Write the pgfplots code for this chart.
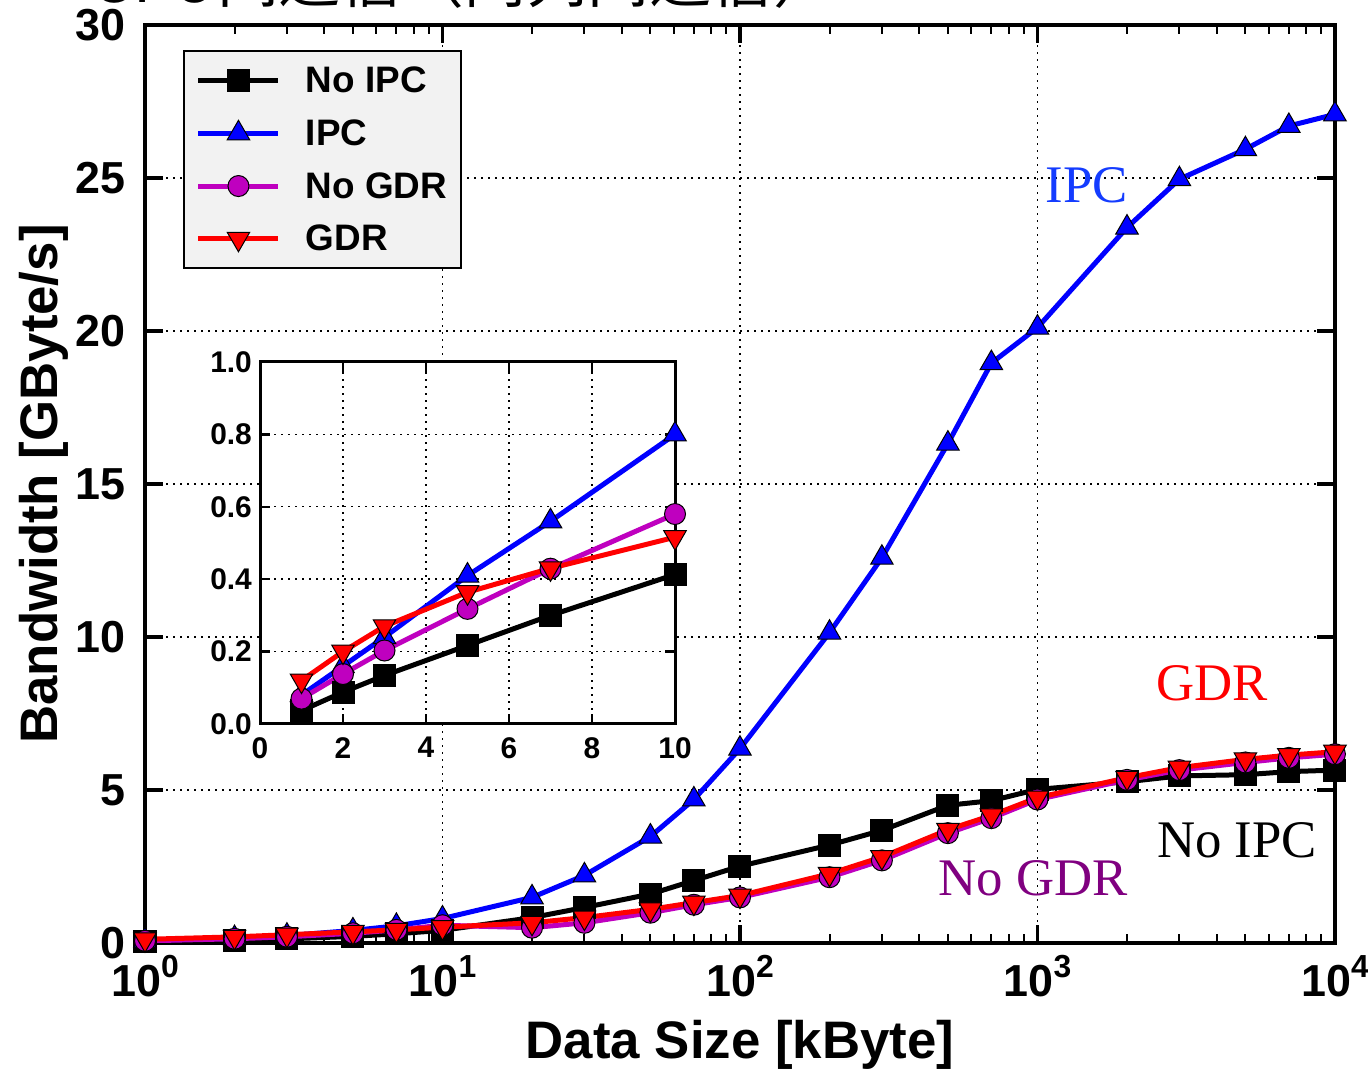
\documentclass[border=0pt]{standalone}
\usepackage{pgfplots}
\pgfplotsset{compat=1.18}
\usepackage{pgfplotstable}
\usepackage{fontspec}
\setmainfont{Liberation Sans}
\newfontfamily\timesfont{Liberation Serif}
\newfontfamily\cjk{Noto Sans CJK SC}
\definecolor{mag}{rgb}{0.75,0,0.75}
\definecolor{legbg}{RGB}{242,242,242}
\definecolor{ipctext}{RGB}{20,60,255}
\definecolor{nogdrtext}{RGB}{128,0,128}

\pgfplotstableread{
x noipc ipc nogdr gdr
1 0.037 0.08 0.07 0.12
2 0.088 0.16 0.138 0.20
3 0.134 0.24 0.203 0.27
5 0.217 0.41 0.318 0.364
7 0.30 0.56 0.429 0.43
10 0.413 0.80 0.58 0.516
20 0.83 1.49 0.50 0.66
30 1.16 2.21 0.66 0.83
50 1.60 3.48 0.99 1.10
70 2.04 4.69 1.25 1.32
100 2.51 6.35 1.49 1.55
200 3.20 10.14 2.15 2.26
300 3.68 12.59 2.70 2.81
500 4.50 16.32 3.59 3.70
700 4.65 18.95 4.08 4.17
1000 5.02 20.11 4.69 4.75
2000 5.27 23.38 5.33 5.40
3000 5.46 24.96 5.65 5.73
5000 5.50 25.94 5.90 6.00
7000 5.60 26.70 6.05 6.14
10000 5.65 27.08 6.17 6.25
}\maindata

\pgfplotstableread{
x noipc ipc nogdr gdr
1 0.037 0.08 0.07 0.12
2 0.088 0.16 0.138 0.20
3 0.134 0.24 0.203 0.27
5 0.217 0.41 0.318 0.364
7 0.30 0.56 0.429 0.43
10 0.413 0.80 0.58 0.516
}\insetdata

\pgfplotsset{
  s1/.style={black, line width=5bp, mark=square*, mark size=11bp, mark options={solid, fill=black, draw=black, line width=1bp}},
  s2/.style={blue, line width=5bp, mark=triangle*, mark size=13bp, mark options={solid, fill=blue, draw=black, line width=1bp}},
  s3/.style={mag, line width=5bp, mark=*, mark size=10.5bp, mark options={solid, fill=mag, draw=black, line width=1bp}},
  s4/.style={red, line width=5bp, mark=triangle*, mark size=13bp, mark options={solid, rotate=180, fill=red, draw=black, line width=1bp}},
  mygrid/.style={grid=major, major grid style={black, line width=1.4bp, dash pattern=on 2bp off 5bp}},
}

\begin{document}
\begin{tikzpicture}
\path[use as bounding box] (0bp,0bp) rectangle (1368bp,1069bp);
\node[anchor=base east, font=\cjk\fontsize{62}{62}\selectfont, inner sep=0pt] at (835bp,1066bp) {GPU间通信（同列间通信）};
\begin{axis}[
  at={(145bp,126bp)}, anchor=south west,
  width=1190bp, height=918bp, scale only axis,
  xmode=log, xmin=1, xmax=10000, ymin=0, ymax=30,
  xtick={1,10,100,1000,10000},
  xticklabels={10\raisebox{19bp}{\fontsize{32}{32}\selectfont 0},
               10\raisebox{19bp}{\fontsize{32}{32}\selectfont 1},
               10\raisebox{19bp}{\fontsize{32}{32}\selectfont 2},
               10\raisebox{19bp}{\fontsize{32}{32}\selectfont 3},
               10\raisebox{19bp}{\fontsize{32}{32}\selectfont 4}},
  ytick={0,5,10,15,20,25,30},
  /pgf/number format/assume math mode=true,
  tick label style={font=\bfseries\fontsize{45}{45}\selectfont},
  yticklabel style={inner sep=0pt, xshift=-19bp},
  xticklabel style={inner sep=0pt, yshift=-12bp},
  axis line style={line width=4bp},
  major tick length=18bp, minor tick length=9bp,
  every major tick/.append style={line width=3.5bp, black},
  every minor tick/.append style={line width=2bp, black},
  mygrid,
  xlabel={Data Size [kByte]},
  ylabel={Bandwidth [GByte/s]},
  xlabel style={at={(axis description cs:0.5,-0.1253)}, anchor=base, inner sep=0pt, font=\bfseries\fontsize{53}{53}\selectfont},
  ylabel style={at={(axis description cs:-0.0739,0.5)}, anchor=base, inner sep=0pt, font=\bfseries\fontsize{53}{53}\selectfont},
  legend image code/.code={\draw[mark repeat=2,mark phase=2] plot coordinates {(0bp,0bp)(40bp,0bp)(80bp,0bp)};},
  legend cell align=left,
  legend style={at={(axis description cs:0.0319,0.9728)}, anchor=north west,
    fill=legbg, draw=black, line width=2bp,
    font=\bfseries\fontsize{37}{37}\selectfont,
    nodes={inner sep=2bp}, row sep=21.5bp, column sep=23bp,
    inner xsep=12bp, inner ysep=14bp},
]
\addplot[s1] table[x=x,y=noipc]{\maindata};
\addlegendentry{No IPC}
\addplot[s2] table[x=x,y=ipc]{\maindata};
\addlegendentry{IPC}
\addplot[s3] table[x=x,y=nogdr]{\maindata};
\addlegendentry{No GDR}
\addplot[s4] table[x=x,y=gdr]{\maindata};
\addlegendentry{GDR}
\node[font=\timesfont\fontsize{53}{53}\selectfont, text=ipctext] at (axis cs:1467,24.77) {IPC};
\node[font=\timesfont\fontsize{53}{53}\selectfont, text=red] at (axis cs:3861,8.5) {GDR};
\node[font=\timesfont\fontsize{53}{53}\selectfont, text=black] at (axis cs:4688,3.37) {No IPC};
\node[font=\timesfont\fontsize{53}{53}\selectfont, text=nogdrtext] at (axis cs:966,2.12) {No GDR};
\end{axis}

\begin{axis}[
  at={(260bp,345bp)}, anchor=south west,
  width=415bp, height=362bp, scale only axis,
  xmin=0, xmax=10, ymin=0, ymax=1,
  xtick={0,2,4,6,8,10}, ytick={0,0.2,0.4,0.6,0.8,1.0},
  axis background/.style={fill=white},
  /pgf/number format/assume math mode=true,
  tick label style={font=\bfseries\fontsize{30}{30}\selectfont},
  yticklabel style={inner sep=0pt, xshift=-8bp, /pgf/number format/.cd, fixed, fixed zerofill, precision=1},
  xticklabel style={inner sep=0pt, yshift=-13bp},
  axis line style={line width=3bp},
  major tick length=10bp,
  every major tick/.append style={line width=2.5bp, black},
  mygrid,
]
\addplot[s1] table[x=x,y=noipc]{\insetdata};
\addplot[s2] table[x=x,y=ipc]{\insetdata};
\addplot[s3] table[x=x,y=nogdr]{\insetdata};
\addplot[s4] table[x=x,y=gdr]{\insetdata};
\end{axis}
\end{tikzpicture}
\end{document}
